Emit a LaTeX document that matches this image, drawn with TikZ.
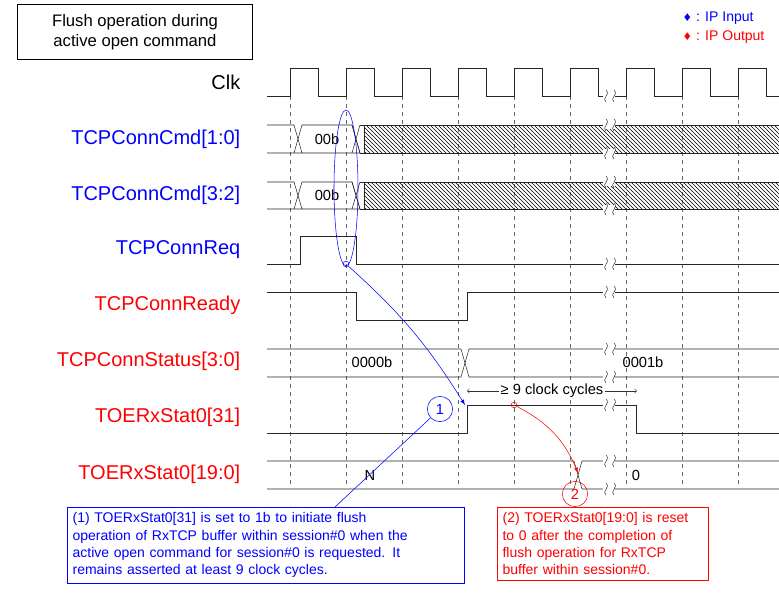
\documentclass[tikz,border=0pt]{standalone}
\usepackage{fontspec}
\setmainfont{Liberation Sans}
\newfontfamily\symfont{DejaVu Sans}
\usetikzlibrary{patterns}
\definecolor{sigin}{HTML}{0000FF}
\definecolor{sigout}{HTML}{FF0000}
\newcommand{\brk}[2]{%
  \fill[white] (#1-4,#2-4) rectangle (#1+8,#2+4);
  \draw[black!80] (#1-1,#2+6) .. controls (#1-6,#2+2) and (#1+4,#2-1) .. (#1-1,#2-6);
  \draw[black!80] (#1+7,#2+6) .. controls (#1+2,#2+2) and (#1+12,#2-1) .. (#1+7,#2-6);}
\tikzset{
  siglabel/.style={anchor=east, font=\fontsize{15}{18}\selectfont},
  val/.style={font=\fontsize{11}{13}\selectfont},
  grid/.style={dashed, black!60},
  wave/.style={black!85},
  note/.style={draw, anchor=north west, align=left, font=\fontsize{10.5}{13}\selectfont, inner sep=4pt},
}
\begin{document}
\begin{tikzpicture}[x=0.75pt,y=-0.75pt]
\useasboundingbox (0,0) rectangle (779,603);

% title and legend
\node[draw, align=center, font=\fontsize{12.5}{15}\selectfont, minimum width=176, minimum height=41] (title) at (135,32) {Flush operation during\\active open command};
\node[anchor=west, text=sigin, font=\fontsize{10.5}{12}\selectfont] (legin) at (678,18) {{\symfont\footnotesize ♦} : IP Input};
\node[anchor=west, text=sigout, font=\fontsize{10.5}{12}\selectfont] (legout) at (678,37) {{\symfont\footnotesize ♦} : IP Output};

% signal names
\node[siglabel] (nclk) at (245,82) {Clk};
\node[siglabel, text=sigin] (ncmd1) at (245,139) {TCPConnCmd[1:0]};
\node[siglabel, text=sigin] (ncmd2) at (245,195) {TCPConnCmd[3:2]};
\node[siglabel, text=sigin] (nreq) at (245,250) {TCPConnReq};
\node[siglabel, text=sigout] (nrdy) at (245,305) {TCPConnReady};
\node[siglabel, text=sigout] (nsts) at (245,361) {TCPConnStatus[3:0]};
\node[siglabel, text=sigout] (nrx31) at (245,417) {TOERxStat0[31]};
\node[siglabel, text=sigout] (nrx19) at (245,474) {TOERxStat0[19:0]};

% grid
\foreach \x in {290,346,...,739}
  \draw[grid] (\x,96) -- (\x,487);

% clock
\draw[wave] (267,96) \foreach \x in {290,346,...,739} {-- (\x,96) -- (\x,68) -- (\x+28,68) -- (\x+28,96)} -- (779,96);

% command buses
\foreach \t/\b in {125/153,182/209}{
  \draw[wave] (267,\t) -- (294,\t) -- (302,\b) -- (267,\b);
  \draw[wave] (294,\b) -- (302,\t) -- (352,\t) -- (360,\b) -- (302,\b);
  \draw[wave] (352,\t) -- (360,\b) (352,\b) -- (360,\t);
  \fill[pattern=north west lines] (364,\t) rectangle (779,\b);
  \draw[wave] (360,\b) -- (364,\b) -- (364,\t) -- (360,\t);
  \draw[wave] (364,\t) -- (779,\t) (364,\b) -- (779,\b);
  \node[val] at (327,{(\t+\b)/2}) {00b};
}

% request and ready
\draw[wave] (267,264) -- (300,264) -- (300,236) -- (356,236) -- (356,264) -- (779,264);
\draw[wave] (267,292) -- (356,292) -- (356,320) -- (467,320) -- (467,292) -- (779,292);

% status
\draw[wave] (267,349) -- (461,349) -- (469,377) -- (779,377);
\draw[wave] (267,377) -- (461,377) -- (469,349) -- (779,349);
\node[val] (s0) at (372,362) {0000b};
\node[val] (s1) at (643,362) {0001b};

% flush bit
\draw[wave] (267,433) -- (467,433) -- (467,405) -- (636,405) -- (636,433) -- (779,433);
\coordinate (cs) at (467,391);
\coordinate (ce) at (637,391);
\draw[<->, black!80] (cs) -- (ce);
\node[val, fill=white, inner sep=1pt] (ncyc) at (552,391) {≥ 9 clock cycles};

% stat
\draw[wave] (267,461) -- (574,461) -- (582,489) -- (779,489);
\draw[wave] (267,489) -- (574,489) -- (582,461) -- (779,461);
\node[val] (vn) at (370,475) {N};
\node[val] (v0) at (636,475) {0};

% breaks
\foreach \y in {96,125,153,182,209,264,292,349,377,405,461,489}
  {\brk{607}{\y}}

% annotations
\draw[sigin] (346,188) ellipse (12 and 78);
\node[draw=sigin, circle, inner sep=1.5pt] (p1) at (346,264) {};
\node[draw=sigin, circle, text=sigin, minimum size=19, inner sep=0pt, font=\fontsize{11}{13}\selectfont] (c1) at (440,409) {1};
\coordinate (a1) at (465,405);
\draw[sigin, -latex] (p1) to[bend left=8] (a1);
\node[note, draw=sigin, text=sigin, text width=290] (b1) at (67,507) {(1) TOERxStat0[31] is set to 1b to initiate flush\\operation of RxTCP buffer within session\#0 when the\\active open command for session\#0 is requested. It\\remains asserted at least 9 clock cycles.};
\draw[sigin] (c1) -- (335,507);
\node[draw=sigout, circle, inner sep=1.5pt] (p2) at (514,405) {};
\node[draw=sigout, circle, text=sigout, minimum size=19, inner sep=0pt, font=\fontsize{11}{13}\selectfont] (c2) at (575,494) {2};
\coordinate (a2) at (578,473);
\draw[sigout, -latex] (p2) to[bend left=20] (a2);
\node[note, draw=sigout, text=sigout, text width=150] (b2) at (497,507) {(2) TOERxStat0[19:0] is reset\\to 0 after the completion of\\flush operation for RxTCP\\buffer within session\#0.};
\end{tikzpicture}
\end{document}
